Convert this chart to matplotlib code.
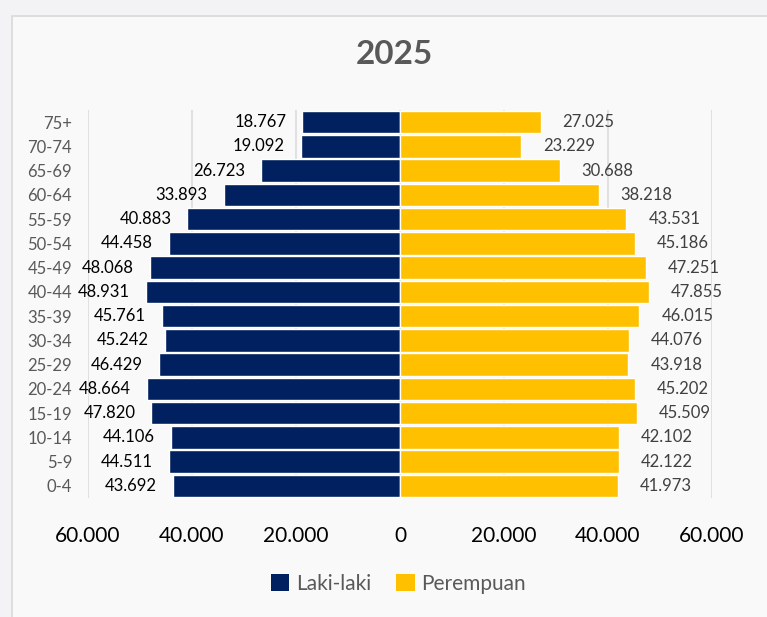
import numpy as np
import matplotlib.pyplot as plt
from matplotlib.patches import Rectangle, Patch
from matplotlib.ticker import FuncFormatter

plt.rcParams['font.family'] = ['Lato', 'DejaVu Sans']

# Data (top to bottom as shown)
age_groups = ['75+', '70-74', '65-69', '60-64', '55-59', '50-54', '45-49', '40-44',
              '35-39', '30-34', '25-29', '20-24', '15-19', '10-14', '5-9', '0-4']
laki = [18767, 19092, 26723, 33893, 40883, 44458, 48068, 48931,
        45761, 45242, 46429, 48664, 47820, 44106, 44511, 43692]
perempuan = [27025, 23229, 30688, 38218, 43531, 45186, 47251, 47855,
             46015, 44076, 43918, 45202, 45509, 42102, 42122, 41973]
x_ticks = [-60000, -40000, -20000, 0, 20000, 40000, 60000]

navy = '#002060'
gold = '#FFC000'

fig = plt.figure(figsize=(7.67, 6.17), dpi=100)
fig.patch.set_facecolor('#f3f3f5')

# chart frame
frame = Rectangle((12/767, -0.1), 1.0, 1 - 16/617 + 0.1, transform=fig.transFigure,
                  facecolor='#f9f9fa', edgecolor='#d9d9d9', linewidth=1.2, zorder=-10)
fig.patches.append(frame)

ax = fig.add_axes([88/767, (617-498)/617, 624/767, 388/617])
ax.set_facecolor('none')

y = np.arange(len(age_groups))[::-1]
ax.barh(y, [-v for v in laki], height=0.92, color=navy, edgecolor='white', linewidth=1, zorder=3)
ax.barh(y, perempuan, height=0.92, color=gold, edgecolor='white', linewidth=1, zorder=3)

for yi, m, f in zip(y, laki, perempuan):
    ax.annotate(f'{m:,}'.replace(',', '.'), (-m, yi), xytext=(-16, 0), textcoords='offset pixels',
                ha='right', va='center', fontsize=12, color='black', annotation_clip=False)
    ax.annotate(f'{f:,}'.replace(',', '.'), (f, yi), xytext=(22, 0), textcoords='offset pixels',
                ha='left', va='center', fontsize=12, color='#404040', annotation_clip=False)

ax.set_xlim(-60000, 60000)
ax.set_ylim(-0.5, len(age_groups) - 0.5)
ax.set_xticks(x_ticks)
ax.xaxis.set_major_formatter(FuncFormatter(lambda v, p: f'{abs(int(v)):,}'.replace(',', '.')))
ax.tick_params(axis='x', length=0, pad=20, labelsize=15, labelcolor='black')
ax.set_yticks(y)
ax.set_yticklabels(age_groups)
ax.tick_params(axis='y', length=0, pad=11.5, labelsize=12, labelcolor='#595959')
ax.grid(axis='x', color='#dcdcdc', linewidth=1.2, zorder=0)
for s in ax.spines.values():
    s.set_visible(False)

fig.text(394/767, 1 - 55/617, '2025', ha='center', va='center', fontsize=24,
         fontweight='bold', color='#595959')

handles = [Patch(facecolor=navy, label='Laki-laki'), Patch(facecolor=gold, label='Perempuan')]
fig.legend(handles=handles, loc='center', bbox_to_anchor=(398/767, 1 - 584/617), ncol=2,
           frameon=False, fontsize=15, labelcolor='#595959', handlelength=0.9, handleheight=0.9,
           handletextpad=0.3, columnspacing=1.2)

fig.savefig('out.png', dpi=100, facecolor=fig.get_facecolor())
